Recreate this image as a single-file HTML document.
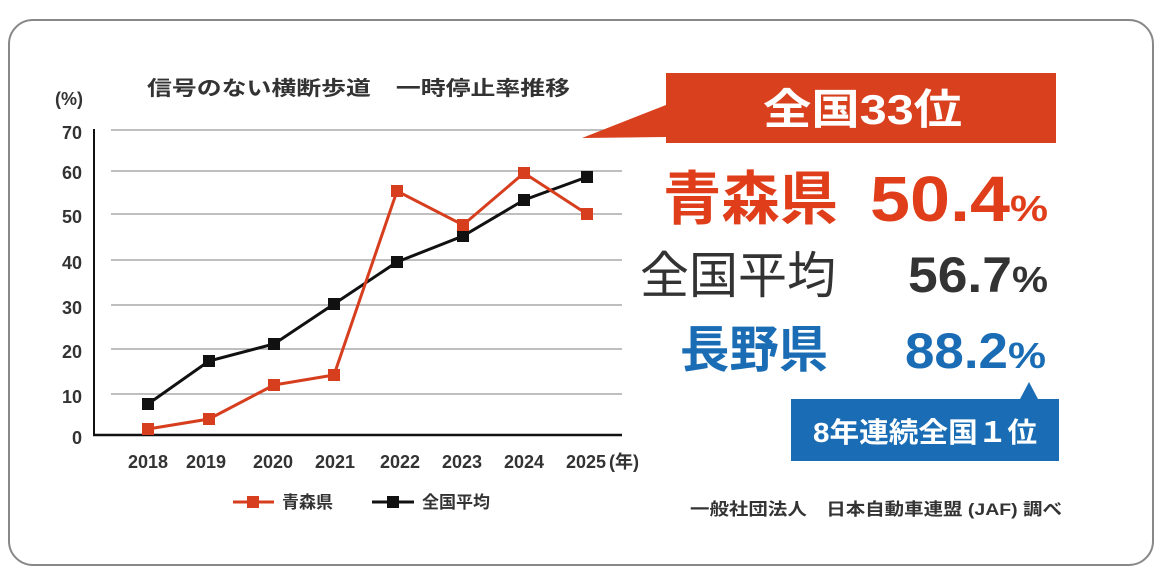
<!DOCTYPE html>
<html><head><meta charset="utf-8"><style>
body{margin:0;width:1164px;height:576px;background:#fff;overflow:hidden;font-family:"Liberation Sans","Noto Sans CJK JP",sans-serif}
</style></head><body>
<svg width="1164" height="576" xmlns="http://www.w3.org/2000/svg" style="position:absolute;left:0;top:0">
<rect x="9" y="20" width="1144" height="545" rx="24" fill="#fff" stroke="#888" stroke-width="2"/>
<g font-family="Liberation Sans,Noto Sans CJK JP,sans-serif" font-weight="bold" fill="#333">
<text x="147" y="95" font-size="20" textLength="423" lengthAdjust="spacingAndGlyphs">信号のない横断歩道　一時停止率推移</text>
<text x="55" y="105" font-size="18">(%)</text>
<g font-size="18" text-anchor="end">
<text x="82" y="139">70</text><text x="82" y="179">60</text><text x="82" y="223">50</text><text x="82" y="269">40</text>
<text x="82" y="314">30</text><text x="82" y="358">20</text><text x="82" y="403">10</text><text x="82" y="444">0</text>
</g>
<g font-size="18" text-anchor="middle">
<text x="148" y="468">2018</text><text x="206" y="468">2019</text><text x="273" y="468">2020</text><text x="335" y="468">2021</text>
<text x="400" y="468">2022</text><text x="462" y="468">2023</text><text x="524" y="468">2024</text><text x="586" y="468">2025</text>
</g>
<text x="609" y="468" font-size="18">(年)</text>
<text x="282" y="508" font-size="17">青森県</text>
<text x="422" y="508" font-size="17">全国平均</text>
<text x="690" y="515" font-size="17" textLength="372" lengthAdjust="spacingAndGlyphs">一般社団法人　日本自動車連盟 (JAF) 調べ</text>
</g>
<g stroke="#999" stroke-width="1.3">
<line x1="111" y1="130" x2="622" y2="130"/><line x1="111" y1="171" x2="622" y2="171"/><line x1="111" y1="214" x2="622" y2="214"/>
<line x1="111" y1="260" x2="622" y2="260"/><line x1="111" y1="305" x2="622" y2="305"/><line x1="111" y1="349" x2="622" y2="349"/>
<line x1="111" y1="394" x2="622" y2="394"/>
</g>
<line x1="94" y1="129" x2="94" y2="436" stroke="#111" stroke-width="2"/>
<line x1="93" y1="435" x2="622" y2="435" stroke="#111" stroke-width="2.5"/>
<polyline fill="none" stroke="#111" stroke-width="3" points="148,404 209,361 274,344 334,304 397,262 463,236 524,200 587,177"/>
<g fill="#111"><rect x="142" y="398" width="12" height="12"/><rect x="203" y="355" width="12" height="12"/><rect x="268" y="338" width="12" height="12"/><rect x="328" y="298" width="12" height="12"/><rect x="391" y="256" width="12" height="12"/><rect x="457" y="230" width="12" height="12"/><rect x="518" y="194" width="12" height="12"/><rect x="581" y="171" width="12" height="12"/></g>
<polyline fill="none" stroke="#d63e1e" stroke-width="3" points="148,429 209,419 274,385 334,375 397,191 463,225 524,173 587,214"/>
<g fill="#d63e1e"><rect x="142" y="423" width="12" height="12"/><rect x="203" y="413" width="12" height="12"/><rect x="268" y="379" width="12" height="12"/><rect x="328" y="369" width="12" height="12"/><rect x="391" y="185" width="12" height="12"/><rect x="457" y="219" width="12" height="12"/><rect x="518" y="167" width="12" height="12"/><rect x="581" y="208" width="12" height="12"/></g>
<line x1="233" y1="502" x2="274" y2="502" stroke="#d63e1e" stroke-width="3"/><rect x="247" y="496" width="12" height="12" fill="#d63e1e"/>
<line x1="372" y1="502" x2="414" y2="502" stroke="#111" stroke-width="3"/><rect x="387" y="496" width="12" height="12" fill="#111"/>
<polygon points="666,73 1056,73 1056,143 666,143 666,137 582,138 666,105" fill="#d9401e"/>
<text x="763" y="124" font-size="42" font-weight="bold" fill="#fff" textLength="199" lengthAdjust="spacingAndGlyphs">全国33位</text>
<text x="663" y="219" font-size="58" font-weight="bold" fill="#e03e1a" textLength="175" lengthAdjust="spacingAndGlyphs">青森県</text>
<text x="870" y="221" font-size="64" font-weight="bold" fill="#e03e1a" textLength="140" lengthAdjust="spacingAndGlyphs">50.4</text>
<text x="1010" y="221" font-size="36" font-weight="bold" fill="#e03e1a" textLength="38" lengthAdjust="spacingAndGlyphs">%</text>
<text x="640" y="293" font-size="50" fill="#333" textLength="196" lengthAdjust="spacingAndGlyphs">全国平均</text>
<text x="908" y="292" font-size="50" font-weight="bold" fill="#333" textLength="104" lengthAdjust="spacingAndGlyphs">56.7</text>
<text x="1012" y="292" font-size="36" font-weight="bold" fill="#333" textLength="36" lengthAdjust="spacingAndGlyphs">%</text>
<text x="680" y="367" font-size="50" font-weight="bold" fill="#1a6db4" textLength="148" lengthAdjust="spacingAndGlyphs">長野県</text>
<text x="905" y="368" font-size="50" font-weight="bold" fill="#1a6db4" textLength="103" lengthAdjust="spacingAndGlyphs">88.2</text>
<text x="1008" y="368" font-size="36" font-weight="bold" fill="#1a6db4" textLength="38" lengthAdjust="spacingAndGlyphs">%</text>
<polygon points="791,399 1020,399 1029,382 1038,399 1059,399 1059,461 791,461" fill="#1a6db4"/>
<text x="813" y="442" font-size="28" font-weight="bold" fill="#fff" textLength="224" lengthAdjust="spacingAndGlyphs">8年連続全国１位</text>
</svg>
</body></html>
